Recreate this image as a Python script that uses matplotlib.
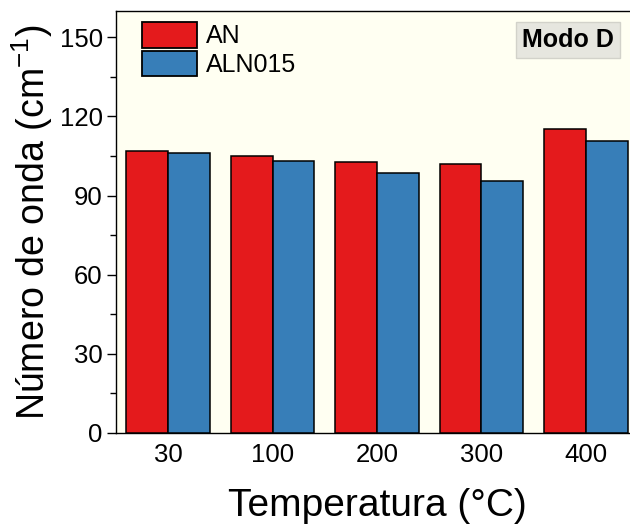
import numpy as np
import matplotlib
matplotlib.use("Agg")
import matplotlib.pyplot as plt
import matplotlib.ticker as mticker

plt.rcParams.update({
    "font.family": ["Liberation Sans", "DejaVu Sans"],
    "axes.linewidth": 1.0,
    "mathtext.fontset": "custom",
    "mathtext.rm": "Liberation Sans",
})

# Raman mode D position vs. temperature
temperaturas = ["30", "100", "200", "300", "400"]
an = [107.0, 104.9, 102.7, 101.8, 115.2]
aln015 = [106.3, 103.2, 98.7, 95.4, 110.8]

RED = "#e41a1c"
BLUE = "#377eb8"

fig = plt.figure(figsize=(6.3, 5.24), dpi=100)
ax = fig.add_axes([0.1841, 0.1737, 0.8286, 0.8053])
ax.set_facecolor("#fffff2")

x = np.arange(len(temperaturas))
w = 0.4
ax.bar(x - w / 2, an, width=w, color=RED, edgecolor="black",
       linewidth=1.1, label="AN", zorder=3)
ax.bar(x + w / 2, aln015, width=w, color=BLUE, edgecolor="black",
       linewidth=1.1, label="ALN015", zorder=3)

ax.set_xlim(-0.5, 4.5)
ax.set_ylim(0, 160)
ax.set_xticks(x)
ax.set_xticklabels(temperaturas)
ax.yaxis.set_major_locator(mticker.MultipleLocator(30))
ax.yaxis.set_minor_locator(mticker.MultipleLocator(15))

ax.tick_params(axis="y", which="major", length=6.5, width=1.0,
               labelsize=18.5, pad=3)
ax.tick_params(axis="y", which="minor", length=4, width=1.0)
ax.tick_params(axis="x", which="both", length=0, labelsize=18.5, pad=7)

ax.set_xlabel("Temperatura (°C)", fontsize=28, labelpad=15)
ax.set_ylabel("Número de onda (cm$^{-1}$)", fontsize=27, labelpad=3)

leg = ax.legend(loc="upper left", bbox_to_anchor=(142 / 630, 1 - 22 / 524),
                bbox_transform=fig.transFigure, frameon=False, fontsize=18,
                handlelength=2.2, handleheight=1.2, handletextpad=0.35,
                labelspacing=0.1, borderpad=0, borderaxespad=0)
for p in leg.get_patches():
    p.set_linewidth(1.3)

ax.text(568 / 630, 1 - 40 / 524, "Modo D", transform=fig.transFigure,
        ha="center", va="center", fontsize=18, fontweight="bold",
        bbox=dict(boxstyle="square,pad=0.25", facecolor="#e6e6df",
                  edgecolor="#d2d2ca", linewidth=1.0))

fig.savefig("out.png", dpi=100)
